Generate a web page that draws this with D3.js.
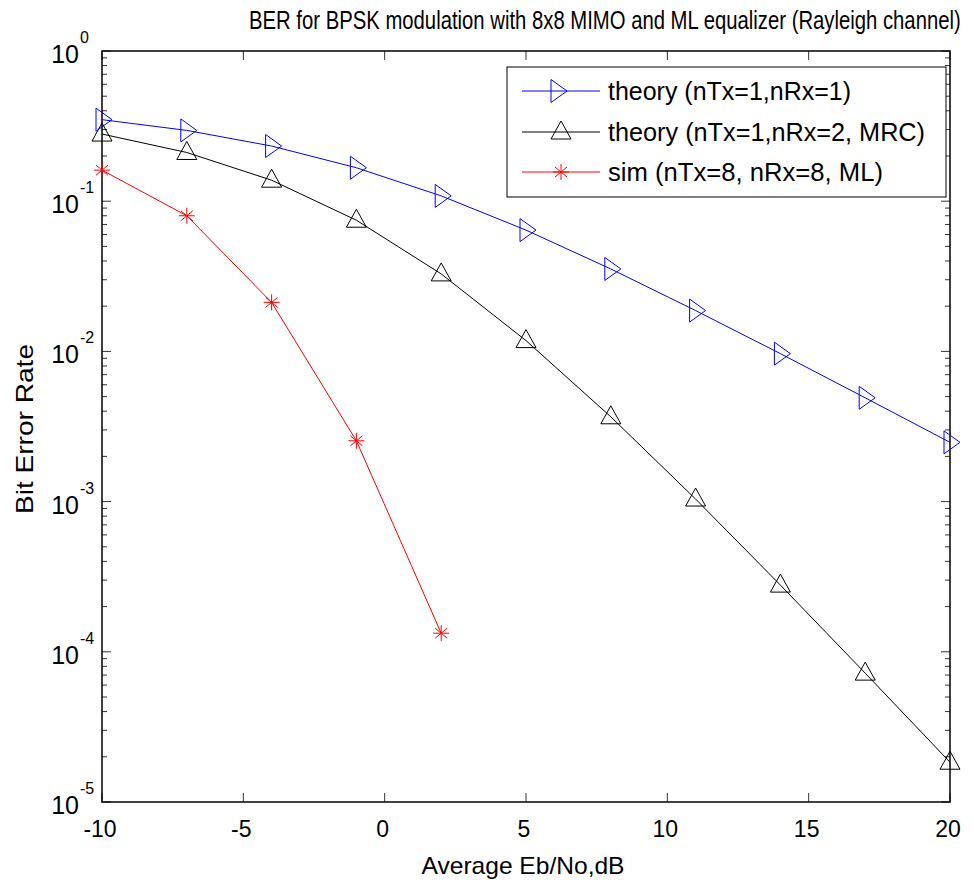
<!DOCTYPE html>
<html><head><meta charset="utf-8">
<script src="https://cdn.jsdelivr.net/npm/d3@7"></script>
<style>body{margin:0;background:#fff;} text{font-family:"Liberation Sans",Arial,sans-serif;fill:#000;}</style>
</head><body><svg id="c" width="974" height="888"></svg>
<script>
const ebno = [-10,-7,-4,-1,2,5,8,11,14,17,20];
const berTheory1 = [0.349,0.296,0.233,0.167,0.1085,0.0642,0.0354,0.0187,0.00966,0.00491,0.00248];
const berTheoryMRC = [0.280,0.211,0.138,0.0747,0.0328,0.0118,0.00367,0.00104,0.000278,0.0000721,0.0000184];
const ebnoSim = [-10,-7,-4,-1,2];
const berSim = [0.161,0.080,0.0212,0.00254,0.000133];
const xTicks = [-10,-5,0,5,10,15,20];
const yExps = [0,-1,-2,-3,-4,-5];
const legendLabels = ["theory (nTx=1,nRx=1)","theory (nTx=1,nRx=2, MRC)","sim (nTx=8, nRx=8, ML)"];
const titleText = "BER for BPSK modulation with 8x8 MIMO and ML equalizer (Rayleigh channel)";

const L=102,R=950,T=51,B=802;
const svg=d3.select("#c");
const x=d3.scaleLinear().domain([-10,20]).range([L,R]);
const y=d3.scaleLog().domain([1e-5,1]).range([B,T]);

// fit text horizontally to a target width by scaling
function fitText(parent, str, x0, y0, size, width){
  const g=parent.append("g");
  const t=g.append("text").attr("x",0).attr("y",0).attr("font-size",size).text(str);
  const w=t.node().getComputedTextLength();
  g.attr("transform",`translate(${x0},${y0}) scale(${width/w},1)`);
  return t;
}

// ticks
const tg=svg.append("g").attr("stroke","#333").attr("stroke-width",1);
xTicks.forEach(v=>{
  tg.append("line").attr("x1",x(v)).attr("x2",x(v)).attr("y1",B).attr("y2",B-9);
  tg.append("line").attr("x1",x(v)).attr("x2",x(v)).attr("y1",T).attr("y2",T+9);
});
for(let e=-5;e<=0;e++){
  tg.append("line").attr("x1",L).attr("x2",L+9).attr("y1",y(Math.pow(10,e))).attr("y2",y(Math.pow(10,e)));
  tg.append("line").attr("x1",R).attr("x2",R-9).attr("y1",y(Math.pow(10,e))).attr("y2",y(Math.pow(10,e)));
  if(e<0){
    for(let m=2;m<=9;m++){
      const v=m*Math.pow(10,e);
      tg.append("line").attr("x1",L).attr("x2",L+5).attr("y1",y(v)).attr("y2",y(v));
      tg.append("line").attr("x1",R).attr("x2",R-5).attr("y1",y(v)).attr("y2",y(v));
    }
  }
}
// box
svg.append("rect").attr("x",L).attr("y",T).attr("width",R-L).attr("height",B-T)
  .attr("fill","none").attr("stroke","#000").attr("stroke-width",1.5);

// tick labels
xTicks.forEach(v=>{
  svg.append("text").attr("x",x(v)-2).attr("y",837).attr("text-anchor","middle")
    .attr("font-size",23).text(v);
});
yExps.forEach(e=>{
  const yy=y(Math.pow(10,e));
  svg.append("text").attr("x",79).attr("y",yy+12).attr("text-anchor","end").attr("font-size",25).text("10");
  svg.append("text").attr("x",80).attr("y",yy-8).attr("text-anchor","start").attr("font-size",16).text(e);
});

// axis labels
svg.append("text").attr("x",523).attr("y",874).attr("text-anchor","middle").attr("font-size",24)
  .attr("textLength",203).attr("lengthAdjust","spacingAndGlyphs").text("Average Eb/No,dB");
svg.append("text").attr("transform","translate(33,429) rotate(-90)").attr("text-anchor","middle").attr("font-size",24)
  .attr("textLength",170).attr("lengthAdjust","spacingAndGlyphs").text("Bit Error Rate");
fitText(svg, titleText, 249, 29, 26, 712);

// markers
const triRight="M-6,-11.5L10,0L-6,11.5Z";
const triUp="M0,-11L10,7L-10,7Z";
function star(g,c){
  g.append("path").attr("d","M0,-8V8M-8,0H8M-6,-5L6,5M-6,5L6,-5").attr("stroke",c).attr("stroke-width",1).attr("fill","none");
}
const line=d3.line().x(d=>x(d[0])).y(d=>y(d[1]));
const series=[
  {xs:ebno,ys:berTheory1,color:"#0000ff",mk:"r"},
  {xs:ebno,ys:berTheoryMRC,color:"#000000",mk:"u"},
  {xs:ebnoSim,ys:berSim,color:"#ff0000",mk:"s"}
];
function drawMarker(g,s){
  if(s.mk==="r") g.append("path").attr("d",triRight).attr("fill","none").attr("stroke",s.color).attr("stroke-width",1);
  else if(s.mk==="u") g.append("path").attr("d",triUp).attr("fill","none").attr("stroke",s.color).attr("stroke-width",1);
  else star(g,s.color);
}
series.forEach(s=>{
  const pts=s.xs.map((v,i)=>[v,s.ys[i]]);
  svg.append("path").datum(pts).attr("d",line).attr("fill","none").attr("stroke",s.color).attr("stroke-width",1);
  pts.forEach(p=>{
    const g=svg.append("g").attr("transform",`translate(${x(p[0])},${y(p[1])})`);
    drawMarker(g,s);
  });
});

// legend
const lg=svg.append("g");
lg.append("rect").attr("x",507).attr("y",67).attr("width",439).attr("height",130).attr("fill","#fff").attr("stroke","#000").attr("stroke-width",1);
const ly=[91,132,172];
const lw=[243,317,275];
series.forEach((s,i)=>{
  lg.append("line").attr("x1",522).attr("x2",600).attr("y1",ly[i]).attr("y2",ly[i]).attr("stroke",s.color).attr("stroke-width",1);
  const g=lg.append("g").attr("transform",`translate(${s.mk==="r"?557:561},${ly[i]})`);
  drawMarker(g,s);
  lg.append("text").attr("x",608).attr("y",ly[i]+9).attr("font-size",25)
    .attr("textLength",lw[i]).attr("lengthAdjust","spacingAndGlyphs").text(legendLabels[i]);
});
</script></body></html>
